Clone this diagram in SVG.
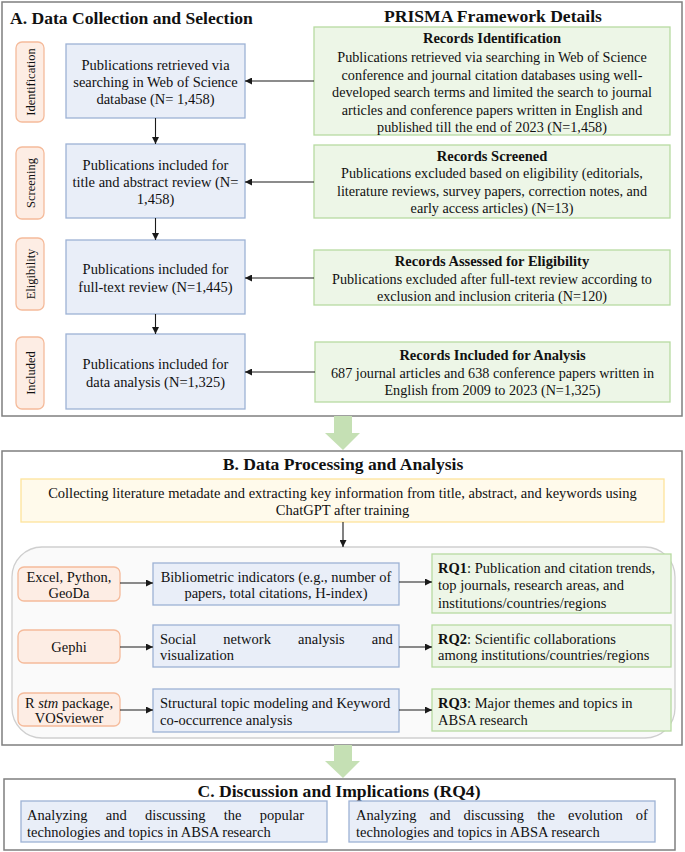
<svg xmlns="http://www.w3.org/2000/svg" width="685" height="852" viewBox="0 0 685 852" font-family="'Liberation Serif', 'Times New Roman', Times, serif">
<defs>
<marker id="ah" viewBox="0 0 8 8" refX="8" refY="4" markerWidth="7" markerHeight="7" markerUnits="userSpaceOnUse" orient="auto">
<path d="M0,0 L8,4 L0,8 z" fill="#1a1a1a"/>
</marker>
</defs>
<style>
text{font-family:'Liberation Serif','Times New Roman',Times,serif;fill:#111}
.sec{fill:#fff;stroke:#7f7f7f;stroke-width:1.5}
.blue{fill:#e9eef8;stroke:#9db2d4;stroke-width:1.3}
.green{fill:#edf6e7;stroke:#b7dba1;stroke-width:1.3}
.orange{fill:#fdede4;stroke:#f5bb9b;stroke-width:1.3}
.yellow{fill:#fffaeb;stroke:#fde49b;stroke-width:1.3}
.cont{fill:#fafafa;stroke:#cfcfcf;stroke-width:1.3}
.big{fill:#c5e0b4}
.t{font-size:14.5px}
.tg{font-size:14.2px}
.c{text-anchor:middle}
.h{font-size:17.6px;font-weight:bold}
.b{font-weight:bold}
.side{font-size:12.5px;text-anchor:middle}
.conn line{stroke:#1a1a1a;stroke-width:1.1;marker-end:url(#ah)}
</style>

<!-- Section A -->
<g id="sectionA">
<rect class="sec" x="2" y="2" width="680" height="414"/>
<text class="h" x="10" y="24">A. Data Collection and Selection</text>
<text class="h c" x="493" y="22">PRISMA Framework Details</text>
</g>

<g id="side-identification">
<rect class="orange" x="16" y="42" width="28" height="80" rx="6"/>
<text class="side" transform="translate(34.5,82) rotate(-90)">Identification</text>
</g>
<g id="side-screening">
<rect class="orange" x="16" y="147" width="28" height="72" rx="6"/>
<text class="side" transform="translate(34.5,183) rotate(-90)">Screening</text>
</g>
<g id="side-eligibility">
<rect class="orange" x="16" y="238" width="28" height="72" rx="6"/>
<text class="side" transform="translate(34.5,274) rotate(-90)">Eligibility</text>
</g>
<g id="side-included">
<rect class="orange" x="16" y="337" width="28" height="72" rx="6"/>
<text class="side" transform="translate(34.5,373) rotate(-90)">Included</text>
</g>

<g id="a-box1">
<rect class="blue" x="66" y="44" width="179" height="74"/>
<text class="t c" x="155.5" y="70">Publications retrieved via</text>
<text class="t c" x="155.5" y="87">searching in Web of Science</text>
<text class="t c" x="155.5" y="104">database (N= 1,458)</text>
</g>
<g id="a-box2">
<rect class="blue" x="66" y="144" width="179" height="74"/>
<text class="t c" x="155.5" y="170">Publications included for</text>
<text class="t c" x="155.5" y="187">title and abstract review (N=</text>
<text class="t c" x="155.5" y="204">1,458)</text>
</g>
<g id="a-box3">
<rect class="blue" x="66" y="240" width="179" height="74"/>
<text class="t c" x="155.5" y="274">Publications included for</text>
<text class="t c" x="155.5" y="292">full-text review (N=1,445)</text>
</g>
<g id="a-box4">
<rect class="blue" x="66" y="334" width="179" height="75"/>
<text class="t c" x="155.5" y="369">Publications included for</text>
<text class="t c" x="155.5" y="387">data analysis (N=1,325)</text>
</g>

<g id="p-identification">
<rect class="green" x="314" y="27" width="356" height="108"/>
<text class="t c b" x="492" y="43">Records Identification</text>
<text class="tg c" x="492" y="62">Publications retrieved via searching in Web of Science</text>
<text class="tg c" x="492" y="79.5">conference and journal citation databases using well-</text>
<text class="tg c" x="492" y="97">developed search terms and limited the search to journal</text>
<text class="tg c" x="492" y="114.5">articles and conference papers written in English and</text>
<text class="tg c" x="492" y="132">published till the end of 2023 (N=1,458)</text>
</g>
<g id="p-screened">
<rect class="green" x="314" y="145" width="356" height="73"/>
<text class="t c b" x="492" y="161">Records Screened</text>
<text class="tg c" x="492" y="178">Publications excluded based on eligibility (editorials,</text>
<text class="tg c" x="492" y="196">literature reviews, survey papers, correction notes, and</text>
<text class="tg c" x="492" y="213">early access articles) (N=13)</text>
</g>
<g id="p-eligibility">
<rect class="green" x="314" y="250" width="356" height="55"/>
<text class="t c b" x="492" y="266">Records Assessed for Eligibility</text>
<text class="tg c" x="492" y="284">Publications excluded after full-text review according to</text>
<text class="tg c" x="492" y="301">exclusion and inclusion criteria (N=120)</text>
</g>
<g id="p-included">
<rect class="green" x="315" y="342" width="355" height="60"/>
<text class="t c b" x="492.5" y="360">Records Included for Analysis</text>
<text class="tg c" x="492.5" y="378">687 journal articles and 638 conference papers written in</text>
<text class="tg c" x="492.5" y="395">English from 2009 to 2023 (N=1,325)</text>
</g>

<!-- Section B -->
<g id="sectionB">
<rect class="sec" x="2" y="451" width="680" height="294"/>
<text class="h c" x="343" y="470">B. Data Processing and Analysis</text>
</g>
<g id="b-collect">
<rect class="yellow" x="21" y="479" width="643" height="43"/>
<text class="t c" x="342.5" y="498">Collecting literature metadate and extracting key information from  title, abstract, and keywords using</text>
<text class="t c" x="342.5" y="515">ChatGPT after training</text>
</g>
<g id="b-container">
<rect class="cont" x="12" y="547" width="663" height="191" rx="30"/>
</g>
<g id="tool-excel">
<rect class="orange" x="18" y="567" width="102" height="34" rx="6"/>
<text class="t c" x="69" y="582">Excel, Python,</text>
<text class="t c" x="69" y="598">GeoDa</text>
</g>
<g id="tool-gephi">
<rect class="orange" x="18" y="630" width="102" height="33" rx="6"/>
<text class="t c" x="69" y="652">Gephi</text>
</g>
<g id="tool-r">
<rect class="orange" x="18" y="693" width="102" height="33" rx="6"/>
<text class="t c" x="69" y="708">R <tspan font-style="italic">stm</tspan> package,</text>
<text class="t c" x="69" y="723">VOSviewer</text>
</g>
<g id="m-biblio">
<rect class="blue" x="153" y="563" width="246" height="42"/>
<text class="t c" x="276" y="582">Bibliometric indicators (e.g., number of</text>
<text class="t c" x="276" y="598">papers, total citations, H-index)</text>
</g>
<g id="m-sna">
<rect class="blue" x="153" y="625" width="246" height="42"/>
<text class="t" x="160" y="644" word-spacing="23.5">Social network analysis and</text>
<text class="t" x="160" y="660">visualization</text>
</g>
<g id="m-stm">
<rect class="blue" x="153" y="689" width="246" height="43"/>
<text class="t" x="160" y="708">Structural topic modeling and Keyword</text>
<text class="t" x="160" y="725">co-occurrence analysis</text>
</g>
<g id="rq1">
<rect class="green" x="432" y="554" width="239" height="59"/>
<text class="t" x="438" y="573"><tspan font-weight="bold">RQ1</tspan>: Publication and citation trends,</text>
<text class="t" x="438" y="590">top journals, research areas, and</text>
<text class="t" x="438" y="608">institutions/countries/regions</text>
</g>
<g id="rq2">
<rect class="green" x="432" y="625" width="239" height="42"/>
<text class="t" x="438" y="644"><tspan font-weight="bold">RQ2</tspan>: Scientific collaborations</text>
<text class="t" x="438" y="660">among institutions/countries/regions</text>
</g>
<g id="rq3">
<rect class="green" x="432" y="689" width="239" height="42"/>
<text class="t" x="438" y="708"><tspan font-weight="bold">RQ3</tspan>: Major themes and topics in</text>
<text class="t" x="438" y="725">ABSA research</text>
</g>

<!-- Section C -->
<g id="sectionC">
<rect class="sec" x="4" y="779" width="671" height="71"/>
<text class="h c" x="339" y="797">C. Discussion and Implications (RQ4)</text>
</g>
<g id="c-popular">
<rect class="blue" x="21" y="801" width="306" height="41"/>
<text class="t" x="27" y="820" word-spacing="14.7">Analyzing and discussing the popular</text>
<text class="t" x="27" y="837">technologies and topics in ABSA research</text>
</g>
<g id="c-evolution">
<rect class="blue" x="349" y="801" width="306" height="41"/>
<text class="t" x="356" y="820" word-spacing="9.5">Analyzing and discussing the evolution of</text>
<text class="t" x="356" y="837">technologies and topics in ABSA research</text>
</g>

<!-- Connectors -->
<g id="connectors" class="conn">
<line x1="314" y1="81" x2="245" y2="81"/>
<line x1="314" y1="182" x2="245" y2="182"/>
<line x1="314" y1="278" x2="245" y2="278"/>
<line x1="315" y1="372" x2="245" y2="372"/>
<line x1="155.5" y1="118" x2="155.5" y2="144"/>
<line x1="155.5" y1="218" x2="155.5" y2="240"/>
<line x1="155.5" y1="314" x2="155.5" y2="334"/>
<line x1="343" y1="522" x2="343" y2="547"/>
<line x1="120" y1="583" x2="153" y2="583"/>
<line x1="120" y1="647" x2="153" y2="647"/>
<line x1="120" y1="710" x2="153" y2="710"/>
<line x1="399" y1="582" x2="432" y2="582"/>
<line x1="399" y1="647" x2="432" y2="647"/>
<line x1="399" y1="710" x2="432" y2="710"/>
<path class="big" d="M334,416 H352 V433 H360 L343,450 L325,433 H334 Z"/>
<path class="big" d="M334,745 H352 V761 H360 L343,778 L325,761 H334 Z"/>
</g>
</svg>
